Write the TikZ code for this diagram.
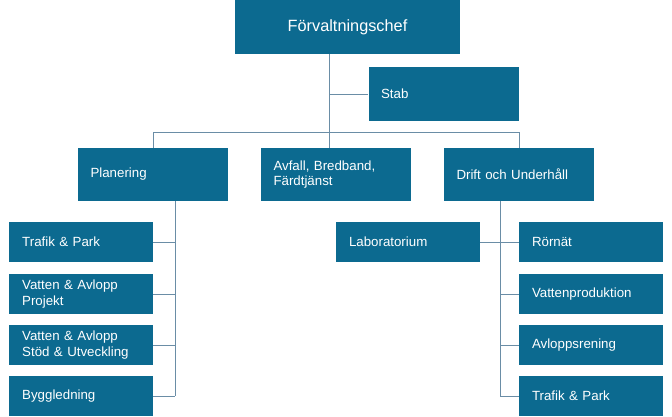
\documentclass[tikz,border=0pt]{standalone}
\usepackage{fontspec}
\setmainfont{Liberation Sans}
\usepackage{xcolor}
\usetikzlibrary{positioning,calc}

\definecolor{boxblue}{HTML}{0C6A90}
\definecolor{linegray}{HTML}{6A8DA6}

\tikzset{
  unit/.style={rectangle,fill=boxblue,text=white,font=\fontsize{13.3}{15.5}\selectfont,
    align=left,inner ysep=0pt,minimum height=40pt},
  wideunit/.style={unit,text width=125pt,inner xsep=12.5pt,minimum height=53.5pt},
  subunit/.style={unit,text width=118pt,inner xsep=13pt},
  link/.style={draw=linegray,line width=0.9pt}
}

\begin{document}
\begin{tikzpicture}[x=1pt,y=-1pt]
\useasboundingbox (0,0) rectangle (672,416);

% Top level
\node[rectangle,fill=boxblue,text=white,font=\fontsize{16.3}{19}\selectfont,
  minimum width=225pt,minimum height=54pt,inner sep=0pt] (chef) at (347.5,27) {Förvaltningschef};
\node[wideunit] (stab) at (443.6,94.2) {Stab};

% Second level
\node[wideunit] (planering) at (153,174.5) {Planering};
\node[wideunit] (avfall) at (336,174.5) {Avfall, Bredband,\\Färdtjänst};
\node[wideunit] (drift) at (519,174.5) {Drift och Underhåll};

% Under Planering
\node[subunit] (trafikA) at (81.2,242) {Trafik \& Park};
\node[subunit] (vaprojekt) at (81.2,294) {Vatten \& Avlopp\\Projekt};
\node[subunit] (vastod) at (81.2,345) {Vatten \& Avlopp\\Stöd \& Utveckling};
\node[subunit] (bygg) at (81.2,396) {Byggledning};

% Under Drift och Underhall
\node[subunit] (lab) at (408,242) {Laboratorium};
\node[subunit] (rornat) at (591,242) {Rörnät};
\node[subunit] (vattenprod) at (591,294) {Vattenproduktion};
\node[subunit] (avloppsrening) at (591,345) {Avloppsrening};
\node[subunit] (trafikB) at (591,396) {Trafik \& Park};

% Connectors
\coordinate (trunk) at (329,54);
\coordinate (bus) at (329,132.3);
\coordinate (lspine) at (175.3,0);
\coordinate (rspine) at (500.2,0);

\draw[link] (trunk) -- (trunk |- avfall.north);
\draw[link] (trunk |- stab.west) -- (stab.west);
\draw[link] (planering.north) |- (bus) -| (drift.north);

\draw[link] (planering.south -| lspine) -- (lspine |- bygg.east);
\foreach \n in {trafikA,vaprojekt,vastod,bygg}
  \draw[link] (\n.east) -- (\n.east -| lspine);

\draw[link] (drift.south -| rspine) -- (rspine |- trafikB.west);
\draw[link] (lab.east) -- (rornat.west);
\foreach \n in {vattenprod,avloppsrening,trafikB}
  \draw[link] (\n.west) -- (\n.west -| rspine);
\end{tikzpicture}
\end{document}
